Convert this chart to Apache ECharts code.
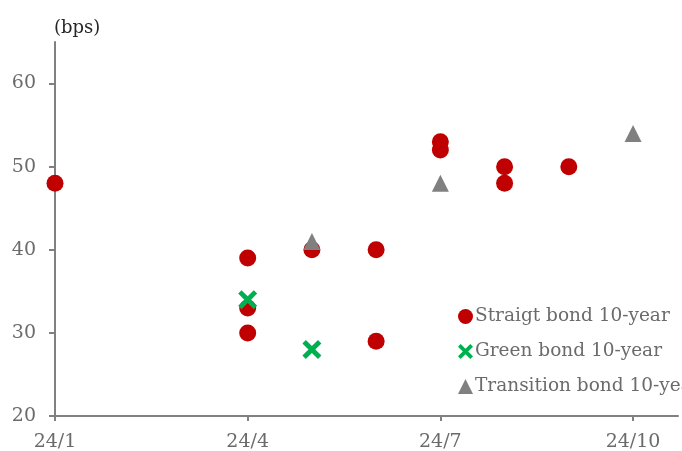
<!DOCTYPE html>
<html>
<head>
<meta charset="utf-8">
<script src="https://cdn.jsdelivr.net/npm/echarts@6/dist/echarts.min.js"></script>
<style>html,body{margin:0;padding:0;background:#fff}#c{width:682px;height:451px}</style>
</head>
<body>
<div id="c"></div>
<script>
// x values are month offsets from 2024/1 (0 = 24/1, 3 = 24/4, ...)
const xTickValues = [0, 3, 6, 9];
const xTickLabels = ['24/1', '24/4', '24/7', '24/10'];
const yTickValues = [20, 30, 40, 50, 60];
const seriesNames = ['Straigt bond 10-year', 'Green bond 10-year', 'Transition bond 10-year'];
const straightX = [0, 3, 3, 3, 4, 5, 5, 6, 6, 7, 7, 8];
const straightY = [48, 39, 33, 30, 40, 40, 29, 53, 52, 50, 48, 50];
const greenX = [3, 4];
const greenY = [34, 28];
const transitionX = [4, 6, 9];
const transitionY = [41, 48, 54];

const xPath = 'path://M0,1.8 L1.8,0 L5,3.2 L8.2,0 L10,1.8 L6.8,5 L10,8.2 L8.2,10 L5,6.8 L1.8,10 L0,8.2 L3.2,5 Z';
const font = '"DejaVu Serif", "Liberation Serif", serif';
const pairs = (xs, ys) => xs.map((x, i) => [x, ys[i]]);

const chart = echarts.init(document.getElementById('c'), null, {renderer: 'canvas'});
chart.setOption({
  animation: false,
  backgroundColor: '#ffffff',
  textStyle: {fontFamily: font},
  grid: {left: 55, right: 4, top: 42, bottom: 35, containLabel: false, outerBoundsMode: 'none'},
  legend: {
    orient: 'vertical',
    left: 453, top: 302,
    itemWidth: 15, itemHeight: 15, itemGap: 16,
    textStyle: {fontFamily: font, fontSize: 18.5, color: '#6b6b6b', padding: [0, 0, 0, -3]},
    data: [
      {name: seriesNames[0], icon: 'circle'},
      {name: seriesNames[1], icon: xPath},
      {name: seriesNames[2], icon: 'triangle'}
    ]
  },
  xAxis: {
    type: 'value', min: 0, max: 9.7,
    splitLine: {show: false},
    axisLine: {lineStyle: {color: '#808080', width: 2}},
    axisTick: {show: true, length: 5, customValues: xTickValues, lineStyle: {color: '#808080', width: 2}},
    axisLabel: {
      customValues: xTickValues,
      formatter: v => xTickLabels[xTickValues.indexOf(v)] || '',
      fontFamily: font, fontSize: 19, color: '#6b6b6b', margin: 17
    }
  },
  yAxis: {
    type: 'value', min: 20, max: 65,
    name: '(bps)',
    nameLocation: 'end',
    nameGap: 5,
    nameTextStyle: {fontFamily: font, fontSize: 18, color: '#262626', align: 'left', padding: [0, 0, 0, -1]},
    splitLine: {show: false},
    axisLine: {show: true, lineStyle: {color: '#808080', width: 2}},
    axisTick: {show: true, length: 6, customValues: yTickValues, lineStyle: {color: '#808080', width: 2}},
    axisLabel: {customValues: yTickValues, fontFamily: font, fontSize: 19, color: '#6b6b6b', margin: 19}
  },
  series: [
    {name: seriesNames[0], type: 'scatter', symbol: 'circle', symbolSize: 17,
     itemStyle: {color: '#C00000', opacity: 1}, data: pairs(straightX, straightY), z: 2},
    {name: seriesNames[1], type: 'scatter', symbol: xPath, symbolSize: 19,
     itemStyle: {color: '#00B050', opacity: 1}, data: pairs(greenX, greenY), z: 3},
    {name: seriesNames[2], type: 'scatter', symbol: 'triangle', symbolSize: 17,
     itemStyle: {color: '#808080', opacity: 1}, data: pairs(transitionX, transitionY), z: 4}
  ]
});
</script>
</body>
</html>
